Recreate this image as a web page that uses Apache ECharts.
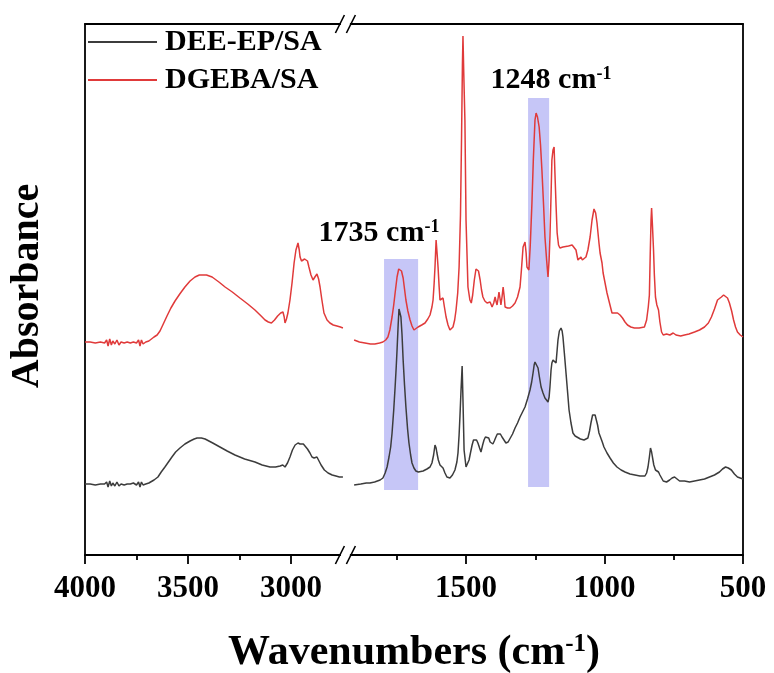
<!DOCTYPE html>
<html>
<head>
<meta charset="utf-8">
<script src="https://cdn.jsdelivr.net/npm/echarts@6/dist/echarts.min.js"></script>
<style>html,body{margin:0;padding:0;background:#fff;}#c{width:774px;height:673px;}</style>
</head>
<body>
<div id="c"></div>
<script>
// ---- data (wavenumber cm-1, absorbance a.u.) ----
const seriesNames = ['DEE-EP/SA', 'DGEBA/SA'];
const leftRange = [2750, 4000];
const rightRange = [500, 1925];
const leftTicks = [3000, 3500, 4000];
const leftMinorTicks = [3250, 3750];
const rightTicks = [500, 1000, 1500];
const rightMinorTicks = [750, 1250, 1750];
const bandLabels = ['1735', '1248'];
const highlightBands = [[1796, 1673, 0.65, 2.96], [1276, 1200, 0.68, 4.57]];

const blackLeft = [[4000,0.71],[3975,0.71],[3950,0.70],[3925,0.71],[3905,0.71],[3895,0.73],[3888,0.68],[3880,0.74],[3872,0.69],[3865,0.72],[3855,0.69],[3845,0.73],[3835,0.69],[3825,0.71],[3810,0.70],[3795,0.71],[3780,0.71],[3765,0.72],[3750,0.70],[3740,0.73],[3733,0.68],[3726,0.73],[3718,0.70],[3705,0.71],[3690,0.72],[3684,0.72],[3665,0.75],[3646,0.78],[3630,0.83],[3612,0.88],[3595,0.93],[3578,0.98],[3560,1.03],[3539,1.07],[3515,1.11],[3490,1.14],[3470,1.16],[3456,1.17],[3435,1.17],[3417,1.16],[3380,1.12],[3345,1.08],[3310,1.04],[3272,1.00],[3225,0.96],[3175,0.93],[3140,0.90],[3102,0.88],[3075,0.88],[3053,0.89],[3040,0.90],[3029,0.88],[3017,0.92],[3005,0.98],[2993,1.05],[2980,1.10],[2966,1.12],[2956,1.11],[2947,1.10],[2940,1.11],[2932,1.11],[2920,1.06],[2908,1.02],[2898,0.98],[2888,0.97],[2874,0.98],[2864,0.94],[2854,0.90],[2838,0.85],[2820,0.82],[2800,0.80],[2782,0.79],[2765,0.78],[2748,0.78]];

const blackRight = [[1904,0.70],[1880,0.71],[1860,0.72],[1847,0.72],[1830,0.73],[1810,0.75],[1800,0.77],[1792,0.82],[1785,0.88],[1778,0.98],[1772,1.08],[1767,1.22],[1761,1.45],[1756,1.68],[1752,1.88],[1749,2.05],[1745,2.30],[1742,2.46],[1738,2.44],[1735,2.38],[1731,2.20],[1727,1.95],[1722,1.70],[1717,1.48],[1711,1.26],[1706,1.12],[1700,1.00],[1695,0.92],[1688,0.87],[1681,0.84],[1672,0.83],[1666,0.83],[1655,0.84],[1641,0.86],[1630,0.88],[1623,0.92],[1617,1.00],[1612,1.10],[1608,1.07],[1605,1.02],[1600,0.95],[1594,0.90],[1588,0.89],[1583,0.87],[1576,0.82],[1569,0.78],[1558,0.77],[1549,0.80],[1540,0.85],[1533,0.93],[1529,1.02],[1525,1.20],[1522,1.38],[1518,1.65],[1514,1.89],[1511,1.55],[1507,1.05],[1500,0.88],[1495,0.90],[1489,0.95],[1484,1.02],[1478,1.10],[1473,1.15],[1468,1.17],[1462,1.15],[1457,1.12],[1451,1.07],[1446,1.03],[1440,1.10],[1435,1.15],[1430,1.18],[1424,1.20],[1418,1.17],[1413,1.13],[1408,1.12],[1403,1.11],[1398,1.14],[1392,1.18],[1387,1.21],[1381,1.23],[1376,1.21],[1370,1.18],[1363,1.15],[1356,1.12],[1348,1.13],[1341,1.15],[1332,1.21],[1323,1.27],[1314,1.32],[1305,1.38],[1296,1.43],[1287,1.48],[1278,1.56],[1269,1.65],[1263,1.73],[1258,1.82],[1254,1.90],[1251,1.93],[1246,1.92],[1240,1.87],[1235,1.78],[1229,1.68],[1222,1.62],[1215,1.57],[1209,1.55],[1204,1.53],[1200,1.58],[1197,1.68],[1193,1.85],[1190,1.92],[1186,1.95],[1182,1.95],[1179,1.93],[1175,1.92],[1171,2.05],[1168,2.15],[1163,2.24],[1157,2.27],[1153,2.24],[1150,2.18],[1145,2.02],[1139,1.82],[1133,1.62],[1128,1.45],[1121,1.32],[1114,1.22],[1106,1.19],[1099,1.17],[1087,1.16],[1074,1.15],[1067,1.15],[1060,1.17],[1054,1.24],[1049,1.32],[1043,1.40],[1038,1.42],[1034,1.40],[1031,1.38],[1025,1.30],[1020,1.22],[1016,1.19],[1013,1.18],[1008,1.13],[1002,1.08],[991,1.02],[980,0.97],[968,0.92],[955,0.88],[940,0.85],[926,0.83],[908,0.81],[890,0.80],[872,0.79],[854,0.79],[848,0.82],[843,0.88],[838,0.98],[834,1.07],[830,1.03],[827,0.98],[822,0.90],[816,0.85],[810,0.84],[805,0.83],[800,0.80],[794,0.77],[788,0.74],[783,0.72],[776,0.73],[770,0.75],[765,0.75],[756,0.77],[747,0.78],[740,0.76],[729,0.74],[711,0.74],[693,0.73],[675,0.74],[657,0.75],[639,0.76],[621,0.78],[603,0.80],[585,0.83],[574,0.86],[563,0.88],[553,0.87],[542,0.85],[531,0.81],[520,0.78],[510,0.77],[500,0.76]];

const redLeft = [[4000,2.13],[3975,2.13],[3950,2.12],[3925,2.13],[3905,2.12],[3895,2.15],[3888,2.09],[3880,2.16],[3872,2.10],[3865,2.14],[3855,2.11],[3845,2.15],[3835,2.10],[3825,2.13],[3810,2.12],[3795,2.13],[3780,2.12],[3765,2.13],[3750,2.12],[3740,2.15],[3733,2.09],[3726,2.15],[3718,2.11],[3705,2.13],[3690,2.14],[3684,2.15],[3665,2.18],[3650,2.20],[3636,2.24],[3620,2.31],[3602,2.39],[3583,2.47],[3563,2.54],[3540,2.61],[3515,2.68],[3490,2.74],[3466,2.78],[3445,2.80],[3432,2.80],[3410,2.80],[3383,2.78],[3350,2.73],[3320,2.68],[3285,2.63],[3248,2.57],[3210,2.51],[3175,2.45],[3145,2.39],[3126,2.35],[3110,2.33],[3095,2.32],[3080,2.35],[3065,2.39],[3050,2.42],[3039,2.43],[3033,2.38],[3029,2.32],[3022,2.36],[3015,2.42],[3005,2.55],[2995,2.72],[2985,2.92],[2976,3.05],[2966,3.12],[2960,3.05],[2956,2.98],[2949,2.94],[2942,2.93],[2934,2.96],[2927,2.98],[2920,2.94],[2913,2.88],[2903,2.80],[2893,2.75],[2884,2.78],[2874,2.81],[2866,2.76],[2859,2.68],[2850,2.55],[2840,2.42],[2825,2.35],[2811,2.32],[2795,2.30],[2777,2.29],[2760,2.28],[2748,2.27]];

const redRight = [[1904,2.15],[1885,2.13],[1865,2.12],[1845,2.11],[1829,2.11],[1812,2.12],[1800,2.13],[1790,2.15],[1782,2.18],[1775,2.25],[1767,2.38],[1761,2.50],[1756,2.62],[1749,2.78],[1743,2.86],[1738,2.88],[1733,2.84],[1727,2.77],[1722,2.66],[1717,2.55],[1710,2.44],[1702,2.35],[1695,2.29],[1688,2.25],[1681,2.26],[1673,2.28],[1660,2.30],[1648,2.32],[1638,2.36],[1630,2.40],[1623,2.48],[1619,2.55],[1615,2.72],[1612,2.88],[1608,3.15],[1604,3.00],[1601,2.88],[1597,2.68],[1594,2.55],[1588,2.54],[1583,2.57],[1578,2.48],[1572,2.38],[1565,2.30],[1558,2.25],[1553,2.26],[1547,2.28],[1541,2.35],[1536,2.45],[1530,2.62],[1525,2.88],[1520,3.40],[1516,4.20],[1513,4.90],[1511,5.19],[1508,4.80],[1504,4.35],[1500,3.35],[1493,2.68],[1486,2.55],[1481,2.52],[1476,2.60],[1470,2.75],[1464,2.86],[1460,2.88],[1455,2.84],[1449,2.75],[1444,2.65],[1439,2.58],[1432,2.54],[1424,2.52],[1418,2.53],[1413,2.53],[1406,2.48],[1400,2.52],[1395,2.58],[1391,2.53],[1388,2.50],[1384,2.57],[1381,2.63],[1377,2.56],[1374,2.50],[1370,2.58],[1366,2.68],[1362,2.58],[1359,2.48],[1350,2.47],[1341,2.47],[1332,2.49],[1323,2.52],[1314,2.58],[1305,2.68],[1300,2.85],[1294,3.08],[1287,3.13],[1283,3.02],[1280,2.88],[1273,2.85],[1268,3.10],[1262,3.52],[1257,3.95],[1251,4.35],[1247,4.42],[1242,4.38],[1236,4.28],[1231,4.10],[1226,3.85],[1220,3.50],[1215,3.18],[1209,2.95],[1204,2.78],[1200,2.95],[1197,3.18],[1193,3.60],[1190,3.95],[1186,4.05],[1182,4.08],[1179,3.82],[1175,3.50],[1171,3.22],[1166,3.10],[1161,3.07],[1150,3.08],[1143,3.08],[1130,3.09],[1117,3.10],[1110,3.08],[1103,3.05],[1096,2.95],[1090,2.97],[1085,2.98],[1080,2.95],[1074,2.93],[1067,2.98],[1060,3.05],[1052,3.18],[1045,3.35],[1038,3.46],[1032,3.42],[1027,3.32],[1020,3.12],[1016,3.02],[1013,3.03],[1009,2.92],[1005,2.82],[998,2.72],[991,2.62],[982,2.52],[973,2.42],[963,2.42],[953,2.42],[944,2.40],[935,2.37],[926,2.33],[917,2.30],[905,2.28],[892,2.27],[875,2.27],[856,2.28],[848,2.35],[842,2.48],[838,2.60],[835,3.00],[832,3.35],[830,3.47],[827,3.30],[823,3.05],[820,2.80],[816,2.58],[811,2.50],[805,2.45],[800,2.33],[794,2.23],[788,2.20],[783,2.19],[776,2.21],[769,2.22],[764,2.20],[758,2.19],[752,2.22],[747,2.23],[742,2.20],[736,2.18],[725,2.19],[711,2.20],[695,2.21],[675,2.23],[657,2.25],[639,2.28],[625,2.32],[614,2.38],[603,2.46],[592,2.55],[578,2.58],[570,2.60],[563,2.60],[556,2.57],[549,2.52],[541,2.44],[534,2.35],[527,2.28],[520,2.23],[510,2.20],[500,2.18]];

// ---- layout / style ----
const FONT = 'Liberation Serif';
const BLACK = '#3c3c3c', RED = '#e03a3a';
const TOP = 24, BOTTOM = 555, LEFT = 85, RIGHT = 743;
const L_END = 342.5, R_START = 348.3;
const Y_MAX = 5.31;
const AXW = 1.8;

const chart = echarts.init(document.getElementById('c'), null, {renderer: 'canvas'});

function mainX(grid, range, ticks) {
  return {
    gridIndex: grid, type: 'value', inverse: true, min: range[0], max: range[1], position: 'bottom',
    axisLine: {show: true, onZero: false, lineStyle: {color: '#000', width: AXW}},
    axisTick: {show: true, inside: false, length: 9, customValues: ticks, lineStyle: {color: '#000', width: AXW}},
    axisLabel: {show: true, customValues: ticks, margin: 18, color: '#000', fontFamily: FONT, fontWeight: 'bold', fontSize: 31,
      formatter: v => String(v)},
    splitLine: {show: false}
  };
}
function minorX(grid, range, ticks) {
  return {
    gridIndex: grid, type: 'value', inverse: true, min: range[0], max: range[1], position: 'bottom',
    axisLine: {show: false, onZero: false},
    axisTick: {show: true, inside: false, length: 5, customValues: ticks, lineStyle: {color: '#000', width: AXW}},
    axisLabel: {show: false}, splitLine: {show: false}
  };
}
function topX(grid, range) {
  return {
    gridIndex: grid, type: 'value', inverse: true, min: range[0], max: range[1], position: 'top',
    axisLine: {show: true, onZero: false, lineStyle: {color: '#000', width: AXW}},
    axisTick: {show: false}, axisLabel: {show: false}, splitLine: {show: false}
  };
}
function yAx(grid, pos) {
  return {
    gridIndex: grid, type: 'value', min: 0, max: Y_MAX, position: pos,
    axisLine: {show: true, onZero: false, lineStyle: {color: '#000', width: AXW}},
    axisTick: {show: false}, axisLabel: {show: false}, splitLine: {show: false}
  };
}
function lineSeries(name, data, xi, yi, color) {
  return {
    name, type: 'line', data, xAxisIndex: xi, yAxisIndex: yi, showSymbol: false, symbol: 'none',
    smooth: false, lineStyle: {color, width: 1.5}, itemStyle: {color}, z: 3, silent: true
  };
}

function breakMark(cy) {
  const c = (L_END + R_START) / 2;
  return [
    {type: 'rect', shape: {x: c - 4.5, y: cy - 3, width: 9, height: 6}, style: {fill: '#fff'}, z: 50},
    {type: 'line', shape: {x1: c - 10, y1: cy + 9, x2: c - 1, y2: cy - 9}, style: {stroke: '#000', lineWidth: 1.6}, z: 51},
    {type: 'line', shape: {x1: c + 1, y1: cy + 9, x2: c + 10, y2: cy - 9}, style: {stroke: '#000', lineWidth: 1.6}, z: 51}
  ];
}

const bandAnnot = [
  {x: 379, y: 233, text: bandLabels[0]},
  {x: 551, y: 80, text: bandLabels[1]}
];

const option = {
  backgroundColor: '#fff',
  animation: false,
  grid: [
    {left: LEFT, top: TOP, width: L_END - LEFT, height: BOTTOM - TOP, containLabel: false},
    {left: R_START, top: TOP, width: RIGHT - R_START, height: BOTTOM - TOP, containLabel: false}
  ],
  xAxis: [
    mainX(0, leftRange, leftTicks), minorX(0, leftRange, leftMinorTicks), topX(0, leftRange),
    mainX(1, rightRange, rightTicks), minorX(1, rightRange, rightMinorTicks), topX(1, rightRange)
  ],
  yAxis: [yAx(0, 'left'), yAx(1, 'right')],
  legend: {
    data: seriesNames, orient: 'vertical', left: 88, top: 27, padding: 0, icon: 'rect', itemWidth: 69, itemHeight: 2, itemGap: 8,
    textStyle: {color: '#000', fontFamily: FONT, fontWeight: 'bold', fontSize: 30, lineHeight: 30, padding: [0, 0, 0, 3]},
    selectedMode: false
  },
  series: [
    lineSeries(seriesNames[0], blackLeft, 0, 0, BLACK),
    lineSeries(seriesNames[0], blackRight, 3, 1, BLACK),
    lineSeries(seriesNames[1], redLeft, 0, 0, RED),
    lineSeries(seriesNames[1], redRight, 3, 1, RED),
    {
      name: 'bands', type: 'line', data: [], xAxisIndex: 3, yAxisIndex: 1, z: 10, silent: true,
      markArea: {
        silent: true,
        itemStyle: {color: 'rgba(128,128,238,0.45)'},
        data: highlightBands.map(b => [{xAxis: b[0], yAxis: b[3]}, {xAxis: b[1], yAxis: b[2]}])
      }
    }
  ],
  graphic: [
    ...breakMark(BOTTOM), ...breakMark(TOP),
    ...bandAnnot.map(a => ({
      type: 'text', x: a.x, y: a.y, z: 60,
      style: {
        text: '{a|' + a.text + ' cm}{s|-1}', align: 'center', verticalAlign: 'middle',
        rich: {
          a: {fontFamily: FONT, fontWeight: 'bold', fontSize: 30, fill: '#000'},
          s: {fontFamily: FONT, fontWeight: 'bold', fontSize: 18, fill: '#000', verticalAlign: 'top', padding: [0, 0, 12, 0]}
        }
      }
    })),
    {
      type: 'text', x: (LEFT + RIGHT) / 2, y: 653, z: 60,
      style: {
        text: '{a|Wavenumbers (cm}{s|-1}{a|)}', align: 'center', verticalAlign: 'middle',
        rich: {
          a: {fontFamily: FONT, fontWeight: 'bold', fontSize: 42, fill: '#000'},
          s: {fontFamily: FONT, fontWeight: 'bold', fontSize: 25, fill: '#000', verticalAlign: 'top', padding: [0, 0, 16, 0]}
        }
      }
    },
    {
      type: 'text', x: 28, y: 286, rotation: Math.PI / 2, z: 60,
      style: {text: 'Absorbance', align: 'center', verticalAlign: 'middle', fontFamily: FONT, fontWeight: 'bold', fontSize: 40, fill: '#000'}
    }
  ]
};
chart.setOption(option);
</script>
</body>
</html>
